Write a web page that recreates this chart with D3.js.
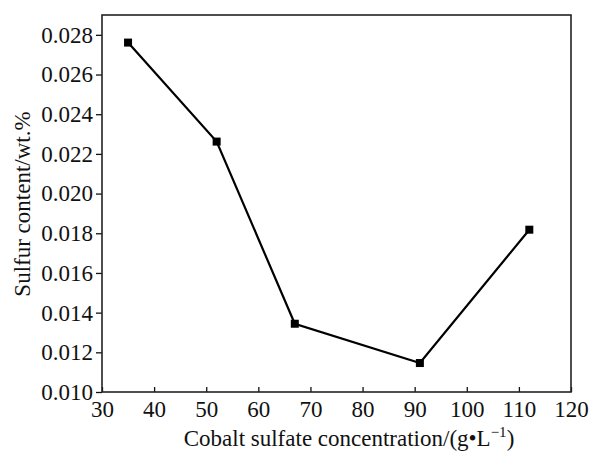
<!DOCTYPE html>
<style>
body { margin: 0; background: #fff; }
svg text { font-family: "Liberation Serif", "Times New Roman", serif !important; fill: #111; }
</style>
<body></body>
<script src="https://cdn.jsdelivr.net/npm/d3@7"></script>
<script>
const concentration = [35, 52, 67, 91, 112]
const sulfur = [0.02761, 0.02262, 0.01344, 0.01146, 0.01818]
const xTicks = [30, 40, 50, 60, 70, 80, 90, 100, 110, 120]
const yTicks = [0.010, 0.012, 0.014, 0.016, 0.018, 0.020, 0.022, 0.024, 0.026, 0.028]

const data = concentration.map((c, i) => ({ x: c, y: sulfur[i] }))

const width = 589
const height = 452
const margins = { top: 15, right: 18, bottom: 60, left: 102 }
const innerW = width - margins.left - margins.right
const innerH = height - margins.top - margins.bottom
const serif = '"Liberation Serif", "Times New Roman", serif'

const svg = d3.select('body')
    .append('svg')
        .attr('width', width)
        .attr('height', height)

const g = svg.append('g')
    .attr('transform', `translate(${margins.left}, ${margins.top})`)

const xScale = d3.scaleLinear().domain([30, 120]).range([0, innerW])
const yScale = d3.scaleLinear().domain([0.010, 0.0290]).range([innerH, 0])

// x axis, ticks point inward
const xAxis = g.append('g')
    .attr('transform', `translate(0, ${innerH})`)
    .call(d3.axisBottom(xScale).tickValues(xTicks).tickSizeInner(-5).tickSizeOuter(0))
xAxis.attr('font-family', serif).attr('font-size', 23)
xAxis.select('.domain').remove()
xAxis.selectAll('line').attr('stroke', '#111').attr('stroke-width', 1.3)
xAxis.selectAll('text').attr('y', 9).attr('dy', '0.71em')

// y axis, ticks point outward
const yAxis = g.append('g')
    .call(d3.axisLeft(yScale).tickValues(yTicks).tickFormat(d3.format('.3f')).tickSizeInner(6).tickSizeOuter(0).tickPadding(3))
yAxis.attr('font-family', serif).attr('font-size', 23)
yAxis.select('.domain').remove()
yAxis.selectAll('line').attr('stroke', '#111').attr('stroke-width', 1.3)

// frame
g.append('rect')
    .attr('x', 0).attr('y', 0)
    .attr('width', innerW).attr('height', innerH)
    .attr('fill', 'none')
    .attr('stroke', '#222')
    .attr('stroke-width', 1.6)

const line = d3.line().x(d => xScale(d.x)).y(d => yScale(d.y))

g.append('path')
    .datum(data)
    .attr('d', line)
    .attr('fill', 'none')
    .attr('stroke', '#000')
    .attr('stroke-width', 2.2)

const s = 8
g.selectAll('rect.pt')
    .data(data)
    .enter().append('rect')
        .attr('class', 'pt')
        .attr('x', d => xScale(d.x) - s / 2)
        .attr('y', d => yScale(d.y) - s / 2)
        .attr('width', s)
        .attr('height', s)
        .attr('fill', '#000')

// axis titles
svg.append('text')
    .attr('x', 349)
    .attr('y', 446)
    .attr('text-anchor', 'middle')
    .attr('font-family', serif)
    .attr('font-size', 23)
    .html('Cobalt sulfate concentration/(g•L<tspan dy="-9" font-size="15">−1</tspan><tspan dy="9">)</tspan>')

svg.append('text')
    .attr('transform', `translate(30, 204) rotate(-90)`)
    .attr('text-anchor', 'middle')
    .attr('font-family', serif)
    .attr('font-size', 23)
    .text('Sulfur content/wt.%')
</script>
